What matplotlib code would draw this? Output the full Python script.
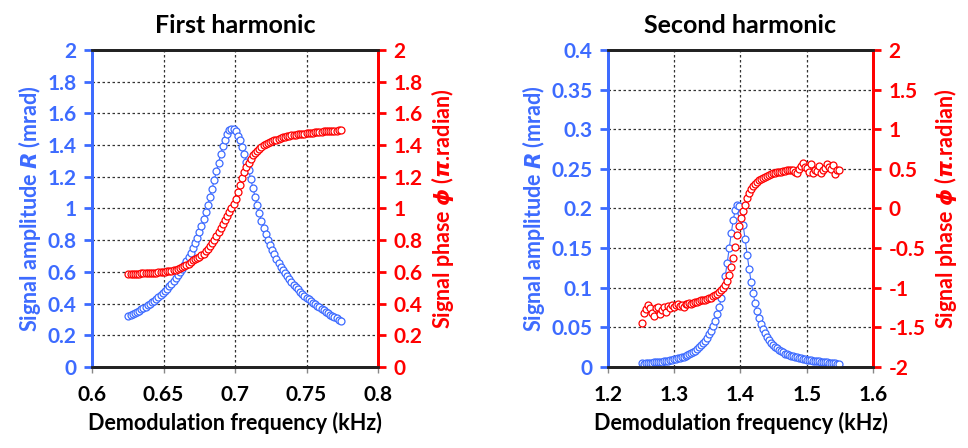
import numpy as np
import matplotlib
matplotlib.use("Agg")
import matplotlib.pyplot as plt

plt.rcParams['font.family'] = ['Lato', 'DejaVu Sans']
plt.rcParams['font.weight'] = 'bold'
plt.rcParams['axes.labelweight'] = 'bold'
plt.rcParams['axes.titleweight'] = 'bold'
plt.rcParams['mathtext.fontset'] = 'custom'
plt.rcParams['mathtext.it'] = 'DejaVu Sans:italic:bold'
plt.rcParams['mathtext.rm'] = 'Lato:bold'

BLUE = '#3d6bff'
RED = '#ff0000'

# first harmonic: frequency sweep (kHz), amplitude (mrad), phase (pi rad)
f1_start, f1_stop = 0.6255, 0.774
amp1 = [0.320, 0.327, 0.334, 0.341, 0.348, 0.355, 0.363, 0.372, 0.380, 0.389,
        0.399, 0.409, 0.419, 0.430, 0.441, 0.453, 0.466, 0.480, 0.494, 0.509,
        0.524, 0.541, 0.559, 0.578, 0.598, 0.619, 0.642, 0.666, 0.692, 0.720,
        0.750, 0.781, 0.815, 0.852, 0.891, 0.933, 0.977, 1.024, 1.074, 1.126,
        1.180, 1.235, 1.290, 1.343, 1.392, 1.435, 1.469, 1.493, 1.504, 1.502,
        1.486, 1.459, 1.430, 1.390, 1.345, 1.295, 1.240, 1.185, 1.130, 1.075,
        1.020, 0.970, 0.919, 0.878, 0.840, 0.804, 0.771, 0.740, 0.711, 0.683,
        0.658, 0.634, 0.612, 0.591, 0.571, 0.553, 0.535, 0.519, 0.504, 0.489,
        0.475, 0.462, 0.449, 0.438, 0.426, 0.416, 0.405, 0.396, 0.386, 0.377,
        0.369, 0.361, 0.350, 0.340, 0.331, 0.322, 0.314, 0.306, 0.298, 0.290]
phase1 = [0.587, 0.587, 0.588, 0.588, 0.589, 0.589, 0.590, 0.591, 0.591, 0.592,
          0.593, 0.594, 0.595, 0.596, 0.597, 0.598, 0.600, 0.601, 0.603, 0.604,
          0.606, 0.609, 0.613, 0.618, 0.624, 0.630, 0.637, 0.644, 0.652, 0.662,
          0.672, 0.680, 0.689, 0.697, 0.706, 0.715, 0.730, 0.747, 0.765, 0.782,
          0.800, 0.825, 0.850, 0.875, 0.900, 0.925, 0.950, 0.975, 1.000, 1.030,
          1.060, 1.105, 1.150, 1.190, 1.230, 1.262, 1.290, 1.315, 1.335, 1.352,
          1.365, 1.378, 1.390, 1.398, 1.406, 1.413, 1.419, 1.425, 1.430, 1.435,
          1.440, 1.444, 1.448, 1.452, 1.455, 1.458, 1.461, 1.463, 1.465, 1.468,
          1.470, 1.472, 1.473, 1.475, 1.476, 1.478, 1.479, 1.481, 1.482, 1.483,
          1.485, 1.486, 1.487, 1.488, 1.489, 1.490, 1.491, 1.492, 1.493, 1.495]

# second harmonic
f2_start, f2_stop = 1.251, 1.548
amp2 = [0.0052, 0.0040, 0.0047, 0.0050, 0.0055, 0.0054, 0.0058, 0.0061, 0.0062, 0.0066,
        0.0069, 0.0073, 0.0076, 0.0082, 0.0086, 0.0090, 0.0097, 0.0102, 0.0109, 0.0115,
        0.0124, 0.0131, 0.0142, 0.0151, 0.0165, 0.0176, 0.0192, 0.0207, 0.0228, 0.0247,
        0.0273, 0.0298, 0.0332, 0.0366, 0.0411, 0.0459, 0.0518, 0.0584, 0.0667, 0.0759,
        0.0873, 0.1000, 0.1152, 0.1318, 0.1502, 0.1685, 0.1855, 0.1981, 0.2046, 0.2032,
        0.1940, 0.1790, 0.1609, 0.1419, 0.1238, 0.1075, 0.0932, 0.0809, 0.0705, 0.0617,
        0.0543, 0.0480, 0.0426, 0.0380, 0.0341, 0.0307, 0.0280, 0.0255, 0.0235, 0.0215,
        0.0198, 0.0183, 0.0170, 0.0160, 0.0150, 0.0141, 0.0134, 0.0128, 0.0122, 0.0116,
        0.0110, 0.0104, 0.0099, 0.0094, 0.0089, 0.0085, 0.0081, 0.0077, 0.0073, 0.0070,
        0.0067, 0.0064, 0.0061, 0.0058, 0.0055, 0.0052, 0.0049, 0.0046, 0.0043, 0.0036]
phase2 = [-1.44, -1.32, -1.27, -1.22, -1.25, -1.32, -1.36, -1.26, -1.24, -1.33,
          -1.28, -1.24, -1.30, -1.23, -1.25, -1.22, -1.24, -1.22, -1.21, -1.23,
          -1.22, -1.24, -1.20, -1.21, -1.19, -1.20, -1.19, -1.18, -1.18, -1.17,
          -1.16, -1.16, -1.15, -1.14, -1.135, -1.125, -1.11, -1.095, -1.078, -1.056,
          -1.03, -1.005, -0.97, -0.92, -0.84, -0.74, -0.62, -0.48, -0.34, -0.22,
          -0.12, -0.03, 0.05, 0.13, 0.19, 0.24, 0.28, 0.31, 0.335, 0.355,
          0.37, 0.385, 0.40, 0.415, 0.425, 0.435, 0.445, 0.45, 0.455, 0.46,
          0.465, 0.47, 0.47, 0.48, 0.485, 0.48, 0.49, 0.46, 0.445, 0.50,
          0.53, 0.57, 0.52, 0.505, 0.465, 0.56, 0.45, 0.48, 0.475, 0.53,
          0.45, 0.49, 0.51, 0.56, 0.52, 0.50, 0.55, 0.44, 0.49, 0.49]

xticks1 = [0.6, 0.65, 0.7, 0.75, 0.8]
xticks2 = [1.2, 1.3, 1.4, 1.5, 1.6]
ampticks1 = [0, 0.2, 0.4, 0.6, 0.8, 1, 1.2, 1.4, 1.6, 1.8, 2]
phticks1 = [0, 0.2, 0.4, 0.6, 0.8, 1, 1.2, 1.4, 1.6, 1.8, 2]
ampticks2 = [0, 0.05, 0.1, 0.15, 0.2, 0.25, 0.3, 0.35, 0.4]
phticks2 = [-2, -1.5, -1, -0.5, 0, 0.5, 1, 1.5, 2]


def panel(rect, f0, f1, amp, ph, xt, at, pt, title):
    ax = fig.add_axes(rect)
    freq = np.linspace(f0, f1, len(amp))
    ax.plot(freq, amp, '-o', color=BLUE, lw=0.8, ms=5, mfc='white',
            mec=BLUE, mew=0.9, zorder=3)
    ax.set_xlim(xt[0], xt[-1])
    ax.set_ylim(at[0], at[-1])
    ax.set_xticks(xt)
    ax.set_xticklabels([f'{v:g}' for v in xt])
    ax.set_yticks(at)
    ax.set_yticklabels([f'{v:g}' for v in at])
    ax.grid(True, color='#333333', linestyle=(0, (2, 2)), linewidth=0.9)
    ax.tick_params(axis='y', colors=BLUE, length=6, width=2, labelsize=15, pad=5)
    ax.tick_params(axis='x', colors='#888888', labelcolor='black', length=4,
                   width=1, labelsize=15, pad=9)

    ax2 = ax.twinx()
    ax2.plot(freq, ph, 'o', color=RED, ms=5, mfc='white', mec=RED, mew=0.9)
    ax2.set_ylim(pt[0], pt[-1])
    ax2.set_yticks(pt)
    ax2.set_yticklabels([f'{v:g}' for v in pt])
    ax2.tick_params(axis='y', colors=RED, length=6, width=2, labelsize=15, pad=5)

    for a in (ax, ax2):
        a.spines['top'].set_color('#222222')
        a.spines['bottom'].set_color('#222222')
        a.spines['top'].set_linewidth(2)
        a.spines['bottom'].set_linewidth(2)
        a.spines['left'].set_color(BLUE)
        a.spines['left'].set_linewidth(2)
        a.spines['right'].set_color(RED)
        a.spines['right'].set_linewidth(2)

    ax.set_title(title, fontsize=18, fontweight='bold', pad=12)
    ax.set_xlabel('Demodulation frequency (kHz)', fontsize=15.5,
                  fontweight='bold', labelpad=5)
    ax.set_ylabel(r'Signal amplitude $R$ (mrad)', color=BLUE, fontsize=15.5,
                  fontweight='bold', labelpad=3)
    ax2.set_ylabel(r'Signal phase $\phi$ ($\pi$.radian)', color=RED,
                   fontsize=15.5, fontweight='bold', labelpad=5)
    return ax, ax2


fig = plt.figure(figsize=(9.68, 4.48), dpi=100)
panel([92 / 968, 81 / 448, 286 / 968, 317 / 448], f1_start, f1_stop, amp1, phase1,
      xticks1, ampticks1, phticks1, 'First harmonic')
panel([608 / 968, 81 / 448, 265 / 968, 317 / 448], f2_start, f2_stop, amp2, phase2,
      xticks2, ampticks2, phticks2, 'Second harmonic')

fig.savefig('out.png', dpi=100)
